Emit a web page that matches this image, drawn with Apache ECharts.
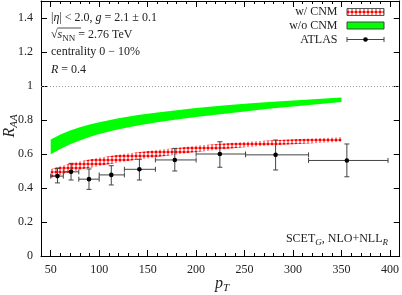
<!DOCTYPE html>
<html>
<head>
<meta charset="utf-8">
<script src="https://cdn.jsdelivr.net/npm/echarts@6/dist/echarts.min.js"></script>
<style>html,body{margin:0;padding:0;background:#fff}#c{width:402px;height:295px}</style>
</head>
<body>
<div id="c"></div>
<script>
// ---- data ----
const xTickLabels = [50, 100, 150, 200, 250, 300, 350, 400];
const yTickLabels = [0, 0.2, 0.4, 0.6, 0.8, 1, 1.2, 1.4];

const bandPt   = [50, 60, 70, 80, 90, 100, 120, 140, 160, 180, 200, 225, 250, 275, 300, 325, 350];
const woLow    = [0.598, 0.630, 0.657, 0.680, 0.700, 0.717, 0.745, 0.768, 0.787, 0.803, 0.818, 0.834, 0.850, 0.866, 0.880, 0.893, 0.906];
const woHigh   = [0.686, 0.715, 0.738, 0.757, 0.773, 0.787, 0.810, 0.829, 0.844, 0.857, 0.870, 0.884, 0.896, 0.906, 0.915, 0.924, 0.933];
const wLow     = [0.458, 0.477, 0.493, 0.507, 0.519, 0.530, 0.550, 0.567, 0.582, 0.597, 0.612, 0.627, 0.640, 0.650, 0.658, 0.665, 0.672];
const wHigh    = [0.510, 0.528, 0.543, 0.556, 0.567, 0.578, 0.595, 0.610, 0.623, 0.635, 0.648, 0.660, 0.671, 0.680, 0.687, 0.693, 0.698];

const atlasPt    = [57, 71, 89.5, 112.5, 141.5, 178, 224.5, 282, 355.5];
const atlasRaa   = [0.470, 0.495, 0.452, 0.477, 0.510, 0.565, 0.600, 0.595, 0.562];
const atlasErrLo = [0.430, 0.447, 0.392, 0.418, 0.447, 0.500, 0.522, 0.506, 0.466];
const atlasErrHi = [0.515, 0.545, 0.512, 0.531, 0.569, 0.633, 0.672, 0.682, 0.659];
const atlasBinLo = [50, 63, 79, 100, 126, 158, 200, 251, 316];
const atlasBinHi = [63, 79, 100, 126, 158, 200, 251, 316, 398];

// ---- hatch pattern ----
function makeHatch() {
  const c = document.createElement('canvas');
  c.width = 4; c.height = 4;
  const g = c.getContext('2d');
  g.fillStyle = '#ff0000'; g.fillRect(0, 0, 4, 4);
  g.fillStyle = '#ffffff';
  g.fillRect(1, 1, 2, 2);
  g.fillRect(0, 1.5, 4, 1);
  g.fillRect(1.5, 0, 1, 4);
  g.fillStyle = '#ff0000';
  g.fillRect(0, 0, 1, 1);
  return c;
}
const hatch = { image: makeHatch(), repeat: 'repeat' };

const SERIF = '"Liberation Serif", "DejaVu Serif", serif';
const TXT = '#222';

function bandRender(low, high, fill) {
  return function (params, api) {
    const pts = [];
    for (let i = 0; i < bandPt.length; i++) pts.push(api.coord([bandPt[i], low[i]]));
    for (let i = bandPt.length - 1; i >= 0; i--) pts.push(api.coord([bandPt[i], high[i]]));
    return { type: 'polygon', shape: { points: pts }, style: { fill: fill, stroke: null } };
  };
}

const atlasData = atlasPt.map((p, i) => [p, atlasRaa[i], atlasBinLo[i], atlasBinHi[i], atlasErrLo[i], atlasErrHi[i]]);

const barColor = '#444';
function errRender(params, api) {
  const c = api.coord([api.value(0), api.value(1)]);
  const l = api.coord([api.value(2), api.value(1)]);
  const r = api.coord([api.value(3), api.value(1)]);
  const b = api.coord([api.value(0), api.value(4)]);
  const t = api.coord([api.value(0), api.value(5)]);
  const st = { stroke: barColor, lineWidth: 1 };
  const cap = 2.5;
  return {
    type: 'group',
    children: [
      { type: 'line', shape: { x1: l[0], y1: l[1], x2: r[0], y2: r[1] }, style: st },
      { type: 'line', shape: { x1: l[0], y1: l[1] - cap, x2: l[0], y2: l[1] + cap }, style: st },
      { type: 'line', shape: { x1: r[0], y1: r[1] - cap, x2: r[0], y2: r[1] + cap }, style: st },
      { type: 'line', shape: { x1: b[0], y1: b[1], x2: t[0], y2: t[1] }, style: st },
      { type: 'line', shape: { x1: b[0] - cap, y1: b[1], x2: b[0] + cap, y2: b[1] }, style: st },
      { type: 'line', shape: { x1: t[0] - cap, y1: t[1], x2: t[0] + cap, y2: t[1] }, style: st },
      { type: 'circle', shape: { cx: c[0], cy: c[1], r: 2.3 }, style: { fill: '#000' } }
    ]
  };
}

const richStyles = {
  n: { fontFamily: SERIF, fontSize: 12, color: TXT, lineHeight: 17, verticalAlign: 'middle' },
  i: { fontFamily: SERIF, fontSize: 12, fontStyle: 'italic', color: TXT, lineHeight: 17, verticalAlign: 'middle' },
  s: { fontFamily: SERIF, fontSize: 9, color: TXT, lineHeight: 10, verticalAlign: 'bottom' },
  si: { fontFamily: SERIF, fontSize: 9, fontStyle: 'italic', color: TXT, lineHeight: 10, verticalAlign: 'bottom' }
};
const bigRich = {
  i: { fontFamily: SERIF, fontSize: 16, fontStyle: 'italic', color: TXT, lineHeight: 20, verticalAlign: 'middle' },
  si: { fontFamily: SERIF, fontSize: 11, fontStyle: 'italic', color: TXT, lineHeight: 11, verticalAlign: 'bottom' }
};

function txt(x, y, text, align, rich, rot) {
  return {
    type: 'text', x: x, y: y, rotation: rot || 0, z: 10,
    style: { text: text, rich: rich || richStyles, textAlign: align || 'left', textVerticalAlign: 'middle', align: align || 'left', verticalAlign: 'middle', font: '12px ' + SERIF, fill: TXT }
  };
}

const chart = echarts.init(document.getElementById('c'), null, { renderer: 'canvas' });
const baseX = { type: 'value', min: 40, max: 410, splitLine: { show: false } };
const baseY = { type: 'value', min: 0, max: 1.5, splitLine: { show: false } };

chart.setOption({
  animation: false,
  backgroundColor: '#fff',
  grid: { left: 41, right: 1, top: 1, bottom: 39, containLabel: false },
  xAxis: [
    Object.assign({}, baseX, { position: 'bottom', interval: 10,
      axisLine: { lineStyle: { color: '#000', width: 1 } },
      axisTick: { inside: true, length: 3, lineStyle: { color: '#000' } },
      axisLabel: { show: false } }),
    Object.assign({}, baseX, { position: 'bottom',
      axisLine: { show: false },
      axisTick: { inside: true, length: 6, customValues: xTickLabels, lineStyle: { color: '#000' } },
      axisLabel: { customValues: xTickLabels, margin: 8, fontFamily: SERIF, fontSize: 12, color: TXT } }),
    Object.assign({}, baseX, { position: 'top', interval: 10,
      axisLine: { lineStyle: { color: '#000', width: 1 } },
      axisTick: { inside: true, length: 3, lineStyle: { color: '#000' } },
      axisLabel: { show: false } }),
    Object.assign({}, baseX, { position: 'top',
      axisLine: { show: false },
      axisTick: { inside: true, length: 6, customValues: xTickLabels, lineStyle: { color: '#000' } },
      axisLabel: { show: false } })
  ],
  yAxis: [
    Object.assign({}, baseY, { position: 'left',
      axisLine: { show: true, lineStyle: { color: '#000', width: 1 } },
      axisTick: { inside: true, length: 6, customValues: yTickLabels, lineStyle: { color: '#000' } },
      axisLabel: { customValues: yTickLabels, margin: 8, fontFamily: SERIF, fontSize: 12, color: TXT } }),
    Object.assign({}, baseY, { position: 'right',
      axisLine: { show: true, lineStyle: { color: '#000', width: 1 } },
      axisTick: { inside: true, length: 6, customValues: yTickLabels, lineStyle: { color: '#000' } },
      axisLabel: { show: false } })
  ],
  series: [
    { type: 'custom', name: 'w/o CNM', xAxisIndex: 0, yAxisIndex: 0, silent: true, z: 2,
      data: [[bandPt[0], woLow[0]]], encode: { x: 0, y: 1 },
      renderItem: bandRender(woLow, woHigh, '#00ff00'),
      markLine: { silent: true, symbol: 'none', label: { show: false },
        lineStyle: { color: '#999', type: [1, 2], width: 1 }, data: [{ yAxis: 1 }] } },
    { type: 'custom', name: 'w/ CNM', xAxisIndex: 0, yAxisIndex: 0, silent: true, z: 3,
      data: [[bandPt[0], wLow[0]]], encode: { x: 0, y: 1 },
      renderItem: bandRender(wLow, wHigh, hatch) },
    { type: 'custom', name: 'ATLAS', xAxisIndex: 0, yAxisIndex: 0, silent: true, z: 4,
      data: atlasData, encode: { x: 0, y: 1 }, renderItem: errRender }
  ],
  graphic: [
    txt(51, 17.5, '|{i|η}| < 2.0, {i|g} = 2.1 ± 0.1'),
    txt(51, 35, '{n|√}{i|s}{s|NN}{n| = 2.76 TeV}'),
    { type: 'line', z: 10, shape: { x1: 57.5, y1: 28, x2: 81, y2: 28 }, style: { stroke: TXT, lineWidth: 0.8 } },
    txt(51, 52.3, 'centrality 0 − 10%'),
    txt(51, 69.5, '{i|R} = 0.4'),
    txt(388, 239, '{n|SCET}{si|G}{n|, NLO+NLL}{si|R}', 'right'),
    // legend
    { type: 'text', z: 10, x: 337.5, y: 12, style: { text: 'w/ CNM', font: '12px ' + SERIF, fill: TXT, textAlign: 'right', textVerticalAlign: 'middle', align: 'right', verticalAlign: 'middle' } },
    { type: 'rect', z: 10, shape: { x: 347, y: 8.5, width: 37, height: 7 }, style: { fill: hatch, stroke: '#555', lineWidth: 1 } },
    { type: 'text', z: 10, x: 337.5, y: 25.5, style: { text: 'w/o CNM', font: '12px ' + SERIF, fill: TXT, textAlign: 'right', textVerticalAlign: 'middle', align: 'right', verticalAlign: 'middle' } },
    { type: 'rect', z: 10, shape: { x: 347, y: 22, width: 37, height: 7 }, style: { fill: '#00ff00', stroke: '#444', lineWidth: 1 } },
    { type: 'text', z: 10, x: 337.5, y: 39.5, style: { text: 'ATLAS', font: '12px ' + SERIF, fill: TXT, textAlign: 'right', textVerticalAlign: 'middle', align: 'right', verticalAlign: 'middle' } },
    { type: 'line', z: 10, shape: { x1: 347, y1: 39.5, x2: 384, y2: 39.5 }, style: { stroke: barColor, lineWidth: 1 } },
    { type: 'line', z: 10, shape: { x1: 347, y1: 37, x2: 347, y2: 42 }, style: { stroke: barColor, lineWidth: 1 } },
    { type: 'line', z: 10, shape: { x1: 384, y1: 37, x2: 384, y2: 42 }, style: { stroke: barColor, lineWidth: 1 } },
    { type: 'circle', z: 10, shape: { cx: 365.5, cy: 39.5, r: 2.3 }, style: { fill: '#000' } },
    // axis titles
    txt(10, 126, '{i|R}{si|AA}', 'center', bigRich, Math.PI / 2),
    txt(222, 284, '{i|p}{si|T}', 'center', bigRich)
  ]
});
</script>
</body>
</html>
